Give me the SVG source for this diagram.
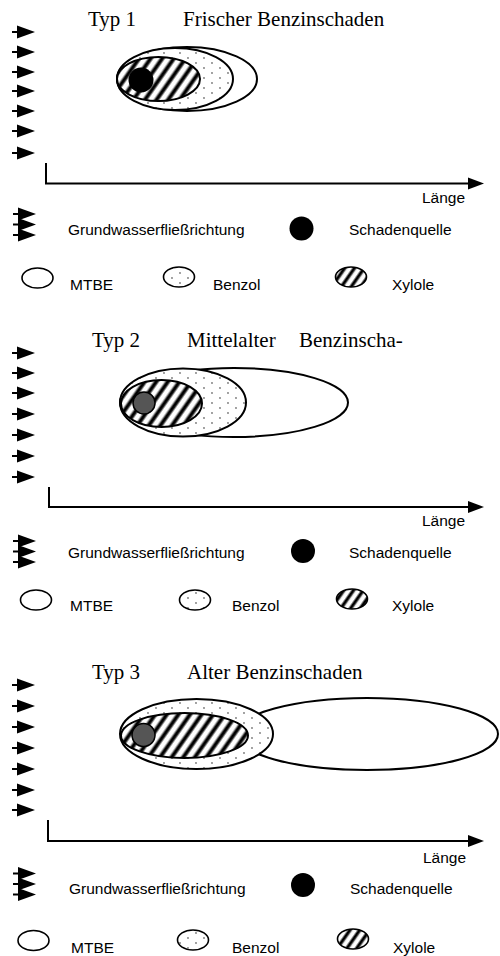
<svg xmlns="http://www.w3.org/2000/svg" xmlns:xlink="http://www.w3.org/1999/xlink" width="500" height="956" viewBox="0 0 500 956">
  <style>
    .title { font-family: "Liberation Serif", "Times New Roman", serif; font-size: 21px; fill: #000; }
    .lbl { font-family: "Liberation Sans", Arial, sans-serif; font-size: 15.5px; fill: #000; }
    .plume { stroke: #000; stroke-width: 2; }
    .mtbe { fill: #fff; }
    .benzol { fill: url(#dots); }
    .xylole { fill: url(#hatch); }
    .icon { stroke: #000; stroke-width: 1.6; }
    .axis { stroke: #000; stroke-width: 2; fill: none; }
    .src1 { fill: #000; }
    .src2 { fill: #555; stroke: #000; stroke-width: 1.5; }
  </style>
  <defs>
    <!-- soft-edged diagonal stripe for the xylene zone -->
    <linearGradient id="stripe" x1="0" y1="0" x2="1" y2="0">
      <stop offset="0" stop-color="#fff"/>
      <stop offset="0.2" stop-color="#fff"/>
      <stop offset="0.42" stop-color="#000"/>
      <stop offset="0.62" stop-color="#000"/>
      <stop offset="0.84" stop-color="#fff"/>
      <stop offset="1" stop-color="#fff"/>
    </linearGradient>
    <pattern id="hatch" width="9.5" height="9.5" patternUnits="userSpaceOnUse" patternTransform="rotate(35)">
      <rect width="9.5" height="9.5" fill="url(#stripe)"/>
    </pattern>
    <pattern id="hatchSmall" width="8" height="8" patternUnits="userSpaceOnUse" patternTransform="rotate(35)">
      <rect width="8" height="8" fill="url(#stripe)"/>
    </pattern>
    <!-- sparse dots for the benzene zone -->
    <pattern id="dots" width="16" height="10" patternUnits="userSpaceOnUse">
      <rect width="16" height="10" fill="#fff"/>
      <circle cx="4" cy="3" r="0.9" fill="#777"/>
      <circle cx="12" cy="8" r="0.9" fill="#777"/>
    </pattern>
    <!-- groundwater flow arrow, tip at x=35 -->
    <g id="flow">
      <line x1="12" y1="0" x2="21" y2="0" stroke="#000" stroke-width="2"/>
      <path d="M17,-6.5 L35,0 L17,6.5 Z" fill="#000"/>
    </g>
    <!-- stacked flow arrows used in the legend -->
    <g id="flow3">
      <use xlink:href="#flow" transform="translate(1,-10.5)"/>
      <use xlink:href="#flow" transform="translate(1,0)"/>
      <use xlink:href="#flow" transform="translate(1,10.5)"/>
    </g>
    <path id="axisHead" d="M0,-6 L16,0 L0,6 Z" fill="#000"/>
  </defs>

  <rect width="500" height="956" fill="#fff"/>

  <!-- ===== Typ 1 ===== -->
  <g id="typ1">
    <g id="typ1-title">
      <text class="title" x="88" y="26">Typ 1</text>
      <text class="title" x="183" y="26">Frischer Benzinschaden</text>
    </g>
    <g id="typ1-flow">
      <use xlink:href="#flow" y="32"/>
      <use xlink:href="#flow" y="52"/>
      <use xlink:href="#flow" y="72"/>
      <use xlink:href="#flow" y="91"/>
      <use xlink:href="#flow" y="111"/>
      <use xlink:href="#flow" y="131"/>
      <use xlink:href="#flow" y="153"/>
    </g>
    <g id="typ1-mtbe"><ellipse class="plume mtbe" cx="187" cy="79" rx="70" ry="32"/></g>
    <g id="typ1-benzol"><ellipse class="plume benzol" cx="175" cy="79" rx="58" ry="31"/></g>
    <g id="typ1-xylole"><ellipse class="plume xylole" cx="158.5" cy="79" rx="41.5" ry="22"/></g>
    <g id="typ1-quelle"><circle class="src1" cx="141" cy="80" r="12.5"/></g>
    <text class="lbl" x="422" y="203">Länge</text>
    <g id="typ1-legend">
      <use xlink:href="#flow3" y="224.5"/>
      <text class="lbl" x="68" y="235">Grundwasserfließrichtung</text>
      <circle class="src1" cx="301.5" cy="228.5" r="12"/>
      <text class="lbl" x="349" y="235">Schadenquelle</text>
      <ellipse class="icon mtbe" cx="37.5" cy="278" rx="15.5" ry="10"/>
      <text class="lbl" x="70" y="290">MTBE</text>
      <ellipse class="icon benzol" cx="179" cy="277" rx="15.5" ry="10"/>
      <text class="lbl" x="213" y="290">Benzol</text>
      <ellipse class="icon" fill="url(#hatchSmall)" cx="351" cy="277" rx="15.5" ry="10"/>
      <text class="lbl" x="392" y="290">Xylole</text>
    </g>
  </g>

  <!-- ===== Typ 2 ===== -->
  <g id="typ2">
    <g id="typ2-title">
      <text class="title" x="92" y="347">Typ 2</text>
      <text class="title" x="187" y="347">Mittelalter</text>
      <text class="title" x="299" y="347">Benzinscha-</text>
    </g>
    <g id="typ2-flow">
      <use xlink:href="#flow" y="353"/>
      <use xlink:href="#flow" y="373"/>
      <use xlink:href="#flow" y="393"/>
      <use xlink:href="#flow" y="414"/>
      <use xlink:href="#flow" y="435"/>
      <use xlink:href="#flow" y="456"/>
      <use xlink:href="#flow" y="477"/>
    </g>
    <g id="typ2-mtbe"><ellipse class="plume mtbe" cx="234" cy="402.5" rx="114" ry="34.5"/></g>
    <g id="typ2-benzol"><ellipse class="plume benzol" cx="183" cy="402.5" rx="63" ry="34"/></g>
    <g id="typ2-xylole"><ellipse class="plume xylole" cx="161.5" cy="403.5" rx="40.5" ry="23.5"/></g>
    <g id="typ2-quelle"><circle class="src2" cx="144" cy="403" r="11"/></g>
    <text class="lbl" x="422" y="526">Länge</text>
    <g id="typ2-legend">
      <use xlink:href="#flow3" y="551.5"/>
      <text class="lbl" x="68" y="558">Grundwasserfließrichtung</text>
      <circle class="src1" cx="303" cy="551" r="12"/>
      <text class="lbl" x="349" y="558">Schadenquelle</text>
      <ellipse class="icon mtbe" cx="36" cy="600" rx="15.5" ry="10"/>
      <text class="lbl" x="70" y="611">MTBE</text>
      <ellipse class="icon benzol" cx="195" cy="600" rx="15.5" ry="10"/>
      <text class="lbl" x="232" y="611">Benzol</text>
      <ellipse class="icon" fill="url(#hatchSmall)" cx="352" cy="599" rx="15.5" ry="10"/>
      <text class="lbl" x="392" y="611">Xylole</text>
    </g>
  </g>

  <!-- ===== Typ 3 ===== -->
  <g id="typ3">
    <g id="typ3-title">
      <text class="title" x="92" y="679">Typ 3</text>
      <text class="title" x="187" y="679">Alter Benzinschaden</text>
    </g>
    <g id="typ3-flow">
      <use xlink:href="#flow" y="685"/>
      <use xlink:href="#flow" y="706"/>
      <use xlink:href="#flow" y="727"/>
      <use xlink:href="#flow" y="748"/>
      <use xlink:href="#flow" y="769"/>
      <use xlink:href="#flow" y="790"/>
      <use xlink:href="#flow" y="810"/>
    </g>
    <g id="typ3-mtbe"><ellipse class="plume mtbe" cx="367" cy="734" rx="131" ry="36"/></g>
    <g id="typ3-benzol"><ellipse class="plume benzol" cx="196.5" cy="734" rx="76.5" ry="35"/></g>
    <g id="typ3-xylole"><ellipse class="plume xylole" cx="184.5" cy="735.5" rx="63.5" ry="22.5"/></g>
    <g id="typ3-quelle"><circle class="src2" cx="143.5" cy="735" r="11.5"/></g>
    <text class="lbl" x="423" y="863">Länge</text>
    <g id="typ3-legend">
      <use xlink:href="#flow3" y="884"/>
      <text class="lbl" x="69" y="894">Grundwasserfließrichtung</text>
      <circle class="src1" cx="303" cy="885" r="12"/>
      <text class="lbl" x="350" y="894">Schadenquelle</text>
      <ellipse class="icon mtbe" cx="33.5" cy="940.5" rx="15.5" ry="10"/>
      <text class="lbl" x="71" y="953">MTBE</text>
      <ellipse class="icon benzol" cx="193" cy="940" rx="15.5" ry="10"/>
      <text class="lbl" x="232" y="953">Benzol</text>
      <ellipse class="icon" fill="url(#hatchSmall)" cx="353" cy="939" rx="15.5" ry="10"/>
      <text class="lbl" x="393" y="953">Xylole</text>
    </g>
  </g>

  <!-- axes -->
  <g id="connectors">
    <path class="axis" d="M46,163 V183.5 H470"/>
    <use xlink:href="#axisHead" transform="translate(468,183.5)"/>
    <path class="axis" d="M49,487 V507 H470"/>
    <use xlink:href="#axisHead" transform="translate(468,507)"/>
    <path class="axis" d="M48,820 V841 H470"/>
    <use xlink:href="#axisHead" transform="translate(468,841)"/>
  </g>
</svg>
